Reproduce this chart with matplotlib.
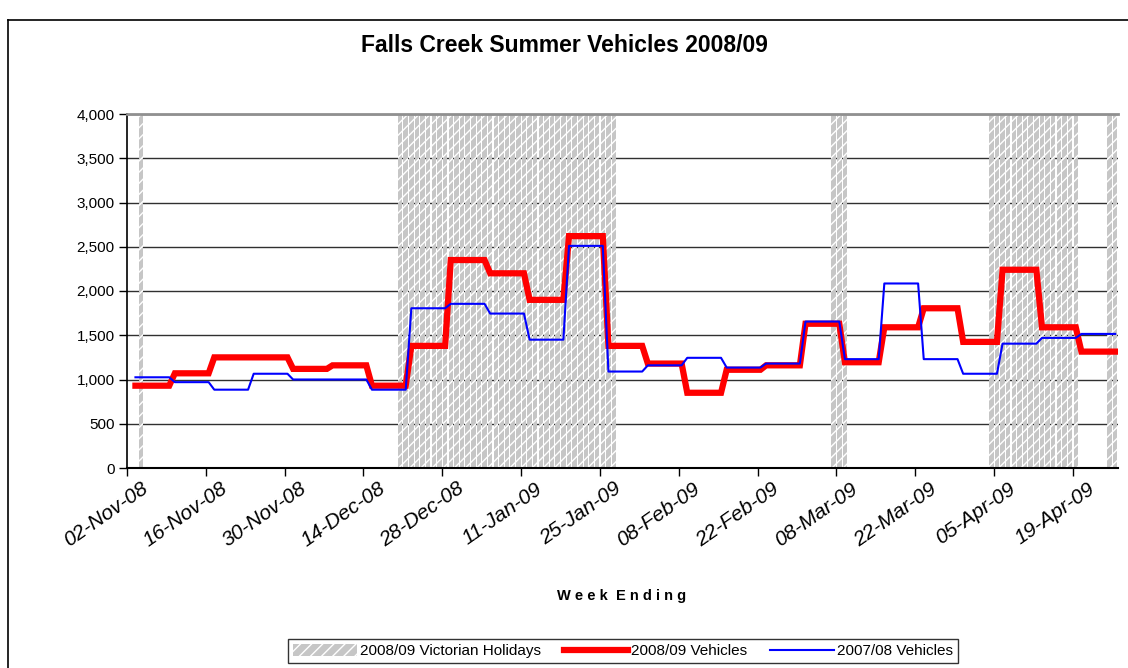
import numpy as np
import pandas as pd
import matplotlib
matplotlib.use("Agg")
import matplotlib.pyplot as plt
import matplotlib.dates as mdates
import matplotlib.transforms as mtransforms
from matplotlib.lines import Line2D

plt.rcParams["font.family"] = ["Liberation Sans", "DejaVu Sans"]
plt.rcParams["hatch.linewidth"] = 1.0

# weekly values, weeks Mon-Sun starting Mon 03-Nov-08
week_start = "2008-11-03"
vehicles_0809 = [930, 1070, 1250, 1250, 1120, 1160, 930, 1380, 2350, 2200,
                 1900, 2620, 1380, 1180, 850, 1110, 1160, 1630, 1195, 1590,
                 1805, 1425, 2240, 1590, 1315]
vehicles_0708 = [1025, 970, 885, 1065, 1000, 1000, 885, 1805, 1855, 1745,
                 1450, 2510, 1090, 1160, 1245, 1135, 1180, 1655, 1230, 2085,
                 1230, 1065, 1405, 1470, 1515]

# Victorian holiday periods (inclusive)
holidays = [("2008-11-04", "2008-11-04"),
            ("2008-12-20", "2009-01-27"),
            ("2009-03-07", "2009-03-09"),
            ("2009-04-04", "2009-04-19"),
            ("2009-04-25", "2009-04-26")]
holiday_level = 4000

tick_dates = pd.date_range("2008-11-02", periods=13, freq="14D")

# daily series
days = pd.date_range(week_start, periods=7 * len(vehicles_0809), freq="D")
x = mdates.date2num(days) + 0.5
y09 = np.repeat(vehicles_0809, 7)
y08 = np.repeat(vehicles_0708, 7)

hol_days = np.concatenate([pd.date_range(a, b, freq="D") for a, b in holidays])
hx = mdates.date2num(pd.DatetimeIndex(hol_days)) + 0.5

fig = plt.figure(figsize=(11.28, 6.68), dpi=100)
ax = fig.add_axes([127 / 1128, 1 - 468 / 668, (1118 - 127) / 1128, (468 - 114) / 668])

ax.bar(hx, np.full(len(hx), holiday_level), width=0.8, color="#c6c6c6",
       edgecolor="white", linewidth=0, hatch="///", zorder=2,
       label="2008/09 Victorian Holidays")
ax.plot(x, y09, color="#ff0000", lw=4.5, zorder=3, label="2008/09 Vehicles",
        solid_joinstyle="miter")
ax.plot(x, y08, color="#0000ff", lw=1.5, zorder=4, label="2007/08 Vehicles")

ax.set_ylim(0, 4000)
ax.set_yticks(np.arange(0, 4001, 500))
ax.yaxis.set_major_formatter(matplotlib.ticker.StrMethodFormatter("{x:,.0f}"))
ax.set_xlim(mdates.date2num(pd.Timestamp("2008-11-02")),
            mdates.date2num(pd.Timestamp("2009-04-27")))
ax.set_xticks(mdates.date2num(tick_dates))
ax.xaxis.set_major_formatter(mdates.DateFormatter("%d-%b-%y"))

ax.grid(axis="y", color="#303030", lw=1.0)
ax.set_axisbelow(True)
ax.tick_params(axis="x", labelsize=15, length=6, width=1, direction="out", pad=2)
ax.tick_params(axis="y", labelsize=11, length=6, width=1, direction="out", pad=3)
shift = mtransforms.ScaledTranslation(14 / 100, 0, fig.dpi_scale_trans)
for lab in ax.get_xticklabels():
    lab.set_rotation(35)
    lab.set_ha("right")
    lab.set_va("top")
    lab.set_rotation_mode("anchor")
    lab.set_style("italic")
    lab.set_transform(lab.get_transform() + shift)

ax.spines["right"].set_visible(False)
ax.spines["top"].set_color("#909090")
ax.spines["top"].set_linewidth(2)
ax.spines["left"].set_linewidth(1.2)
ax.spines["bottom"].set_linewidth(1.5)

fig.text(0.5, 1 - 45 / 668, "Falls Creek Summer Vehicles 2008/09",
         ha="center", va="center", fontsize=16.5, fontweight="bold")
fig.text(622 / 1128, 1 - 596 / 668, "W e e k  E n d i n g",
         ha="center", va="center", fontsize=10.5, fontweight="bold")

handles, labels = ax.get_legend_handles_labels()
order = [2, 0, 1]
leg = fig.legend([handles[i] for i in order], [labels[i] for i in order],
                 loc="center", bbox_to_anchor=(623 / 1128, 1 - 651 / 668),
                 ncol=3, fontsize=11, frameon=True, fancybox=False, edgecolor="black",
                 handlelength=4.2, handletextpad=0.2, columnspacing=1.5,
                 borderpad=0.3, handleheight=0.8)
leg.get_frame().set_linewidth(1.0)

# chart area border (left and top visible)
fig.add_artist(Line2D([8 / 1128, 8 / 1128], [0, 1 - 20 / 668], color="black", lw=1.2,
                      transform=fig.transFigure))
fig.add_artist(Line2D([8 / 1128, 1], [1 - 20 / 668, 1 - 20 / 668], color="black", lw=1.2,
                      transform=fig.transFigure))

fig.savefig("out.png", dpi=100)
